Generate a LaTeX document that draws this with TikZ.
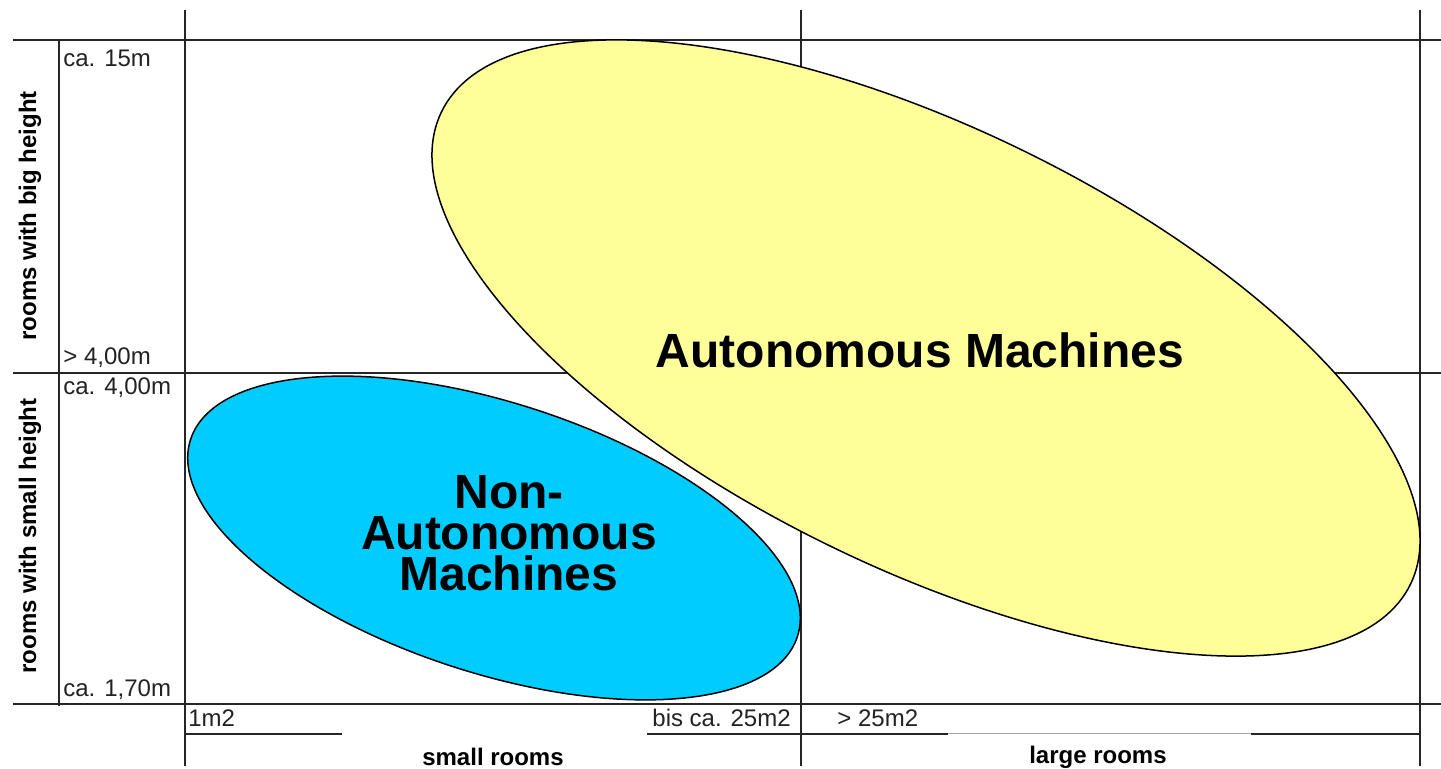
\documentclass[tikz,border=0pt]{standalone}
\usepackage{fontspec}
\setmainfont{Liberation Sans}
\usetikzlibrary{shapes.geometric}
\definecolor{autoyellow}{HTML}{FFFF99}
\definecolor{nonautoblue}{HTML}{00CCFF}
\definecolor{labelgray}{HTML}{222222}
\tikzset{
  grid/.style={line width=1pt, black!85},
  faint/.style={line width=0.5pt, black!35},
  scale label/.style={anchor=west, inner sep=0pt, text=labelgray, font=\fontsize{12}{12}\selectfont},
  axis label/.style={inner sep=0pt, font=\bfseries\fontsize{12}{12}\selectfont},
  region/.style={ellipse, draw, line width=0.75pt, inner sep=0pt},
  region label/.style={align=center, inner sep=0pt, font=\bfseries\fontsize{24}{20.5}\selectfont}
}
\begin{document}
\begin{tikzpicture}[x=0.5pt, y=-0.5pt]
\useasboundingbox (0,0) rectangle (1441,769);

% grid: vertical rules
\draw[grid] (59,40) -- (59,706);
\draw[grid] (185,10) -- (185,766);
\draw[grid] (801,10) -- (801,766);
\draw[grid] (1420,10) -- (1420,766);
% grid: horizontal rules
\draw[grid] (13,40) -- (1441,40);
\draw[grid] (13,373) -- (1441,373);
\draw[grid] (13,704) -- (1441,704);
% area scale underlines
\draw[grid] (185,734) -- (342,734);
\draw[grid] (647,734) -- (948,734);
\draw[faint] (948,734) -- (1251,734);
\draw[grid] (1251,734) -- (1420,734);

% height scale
\node[scale label] (h15) at (63,58) {ca. 15m};
\node[scale label] (h4a) at (63,358) {> 4,00m};
\node[scale label] (h4b) at (63,388) {ca. 4,00m};
\node[scale label] (h17) at (63,690) {ca. 1,70m};
% area scale
\node[scale label] (a1) at (188,718) {1m2};
\node[scale label] (a25) at (652,718) {bis ca. 25m2};
\node[scale label] (a25p) at (837,718) {> 25m2};

% axis captions
\node[axis label, rotate=90] (bigh) at (30,216) {rooms with big height};
\node[axis label, rotate=90] (smallh) at (30,536) {rooms with small height};
\node[axis label] (smallr) at (493,757) {small rooms};
\node[axis label] (larger) at (1098,757) {large rooms};

% machine regions
\node[region, fill=nonautoblue, minimum width=319pt, minimum height=135pt, rotate=-18] (nonauto) at (494,538) {};
\node[region, fill=autoyellow, minimum width=539pt, minimum height=220pt, rotate=-26] (auto) at (926,348) {};

\node[region label] (autotext) at (920,350) {Autonomous Machines};
\node[region label] (nonautotext) at (509,533) {Non-\\Autonomous\\Machines};
\end{tikzpicture}
\end{document}
